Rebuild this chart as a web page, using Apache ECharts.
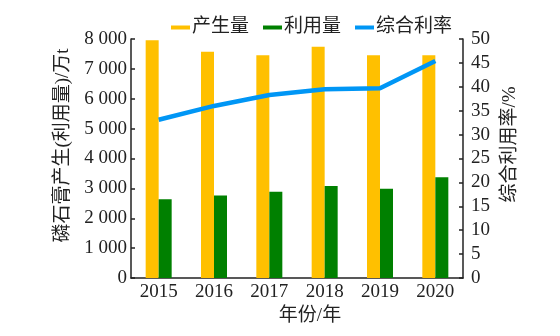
<!DOCTYPE html>
<html>
<head>
<meta charset="utf-8">
<script src="https://cdn.jsdelivr.net/npm/echarts@6/dist/echarts.min.js"></script>
<style>html,body{margin:0;padding:0;background:#fff}#c{width:560px;height:336px}</style>
</head>
<body>
<div id="c"></div>
<script>
var years = ['2015', '2016', '2017', '2018', '2019', '2020'];
var produced = [7960, 7570, 7460, 7740, 7460, 7460];
var utilized = [2640, 2760, 2890, 3080, 2990, 3370];
var rate = [33.1, 36.0, 38.3, 39.5, 39.7, 45.4];
var seriesNames = ['产生量', '利用量', '综合利率'];

var FONT = '"Liberation Serif", "Noto Sans CJK SC", serif';
var axisColor = '#222';
var chart = echarts.init(document.getElementById('c'), null, {renderer: 'canvas'});
chart.setOption({
  animation: false,
  textStyle: {fontFamily: FONT},
  legend: {
    left: 166, top: 13,
    itemWidth: 19, itemHeight: 4, itemGap: 14,
    icon: 'rect',
    textStyle: {fontFamily: FONT, fontSize: 19, color: '#222', padding: [0, 0, 0, -3]},
    data: seriesNames
  },
  grid: {left: 131, right: 97, top: 39, bottom: 58},
  xAxis: {
    type: 'category',
    data: years,
    name: '年份/年',
    nameLocation: 'middle',
    nameGap: 25,
    nameTextStyle: {fontFamily: FONT, fontSize: 19, color: '#222', padding: [0, 0, 0, 26]},
    axisLine: {lineStyle: {color: axisColor, width: 1.5}},
    axisTick: {show: false},
    axisLabel: {fontFamily: FONT, fontSize: 19, color: '#222', margin: 5}
  },
  yAxis: [{
    type: 'value', min: 0, max: 8000, interval: 1000,
    name: '磷石膏产生(利用量)/万t',
    nameLocation: 'middle', nameRotate: 90, nameGap: 58,
    nameTextStyle: {fontFamily: FONT, fontSize: 19, color: '#222', padding: [0, 0, 0, 26]},
    axisLine: {show: true, lineStyle: {color: axisColor, width: 1.5}},
    axisTick: {show: true, inside: true, length: 4, lineStyle: {color: axisColor, width: 1.5}},
    splitLine: {show: false},
    axisLabel: {
      fontFamily: FONT, fontSize: 19, color: '#222', margin: 4,
      formatter: function (v) { return v >= 1000 ? Math.floor(v / 1000) + ' ' + String(v % 1000).padStart(3, '0') : String(v); }
    }
  }, {
    type: 'value', min: 0, max: 50, interval: 5, position: 'right',
    name: '综合利用率/%',
    nameLocation: 'middle', nameRotate: 90, nameGap: 36,
    nameTextStyle: {fontFamily: FONT, fontSize: 19, color: '#222', padding: [0, 0, 0, 28]},
    axisLine: {show: true, lineStyle: {color: axisColor, width: 1.5}},
    axisTick: {show: true, inside: true, length: 4, lineStyle: {color: axisColor, width: 1.5}},
    splitLine: {show: false},
    axisLabel: {fontFamily: FONT, fontSize: 19, color: '#222', margin: 8}
  }],
  series: [{
    name: seriesNames[0], type: 'bar', data: produced,
    barWidth: 13, barGap: '0%',
    itemStyle: {color: '#FFC000'}
  }, {
    name: seriesNames[1], type: 'bar', data: utilized,
    barWidth: 13, barGap: '0%',
    itemStyle: {color: '#008000'}
  }, {
    name: seriesNames[2], type: 'line', data: rate, yAxisIndex: 1,
    showSymbol: false, symbol: 'none',
    lineStyle: {color: '#0096F5', width: 4.5},
    itemStyle: {color: '#0096F5'}
  }]
});
</script>
</body>
</html>
